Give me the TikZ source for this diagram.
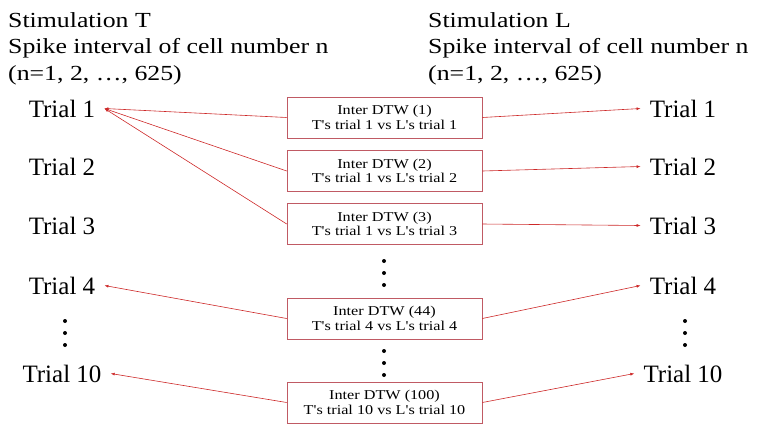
\documentclass[tikz,border=0pt]{standalone}
\usepackage{fontspec}
\usepackage{tikz}
\usetikzlibrary{arrows.meta}
\setmainfont{Liberation Serif}
\newfontfamily\widefont[FakeStretch=1.2]{Liberation Serif}
\definecolor{boxred}{RGB}{192,90,100}
\definecolor{linkred}{RGB}{205,40,40}

\tikzset{
  head/.style={anchor=base west, align=left, inner sep=0pt,
    font=\widefont\fontsize{21.5}{26.5}\selectfont},
  trial/.style={font=\rmfamily\fontsize{25}{28}\selectfont, text height=17pt, text depth=0pt,
    inner xsep=9pt, inner ysep=0pt, anchor=base},
  dtw/.style={draw=boxred, line width=0.6pt, minimum width=195pt, minimum height=41pt,
    align=center, inner sep=0pt, font=\widefont\fontsize{13.5}{14.5}\selectfont},
  link/.style={draw=linkred, line width=0.6pt, -{Latex[length=4pt,width=3pt]}},
  vdot/.style={circle, fill=black, inner sep=0pt, minimum size=4pt}
}

\begin{document}
\begin{tikzpicture}[x=1pt, y=-1pt]
      \useasboundingbox (0,0) rectangle (767,432);
      % headers (base = last line)
      \node[head] (hl) at (8, 80) {Stimulation T\\Spike interval of cell number n\\(n=1, 2, …, 625)};
      \node[head] (hr) at (428, 80) {Stimulation L\\Spike interval of cell number n\\(n=1, 2, …, 625)};
      % trials of T
      \node[trial] (t1) at (62, 117) {Trial 1};
      \node[trial] (t2) at (62, 175) {Trial 2};
      \node[trial] (t3) at (62, 234) {Trial 3};
      \node[trial] (t4) at (62, 294) {Trial 4};
      \node[trial] (t10) at (62, 382) {Trial 10};
      % trials of L
      \node[trial] (l1) at (683, 117) {Trial 1};
      \node[trial] (l2) at (683, 175) {Trial 2};
      \node[trial] (l3) at (683, 234) {Trial 3};
      \node[trial] (l4) at (683, 294) {Trial 4};
      \node[trial] (l10) at (683, 382) {Trial 10};
      % DTW boxes
      \node[dtw] (d1) at (384.5, 117.5) {Inter DTW (1)\\T's trial 1 vs L's trial 1};
      \node[dtw] (d2) at (384.5, 171) {Inter DTW (2)\\T's trial 1 vs L's trial 2};
      \node[dtw] (d3) at (384.5, 224) {Inter DTW (3)\\T's trial 1 vs L's trial 3};
      \node[dtw] (d44) at (384.5, 318.5) {Inter DTW (44)\\T's trial 4 vs L's trial 4};
      \node[dtw] (d100) at (384.5, 402.5) {Inter DTW (100)\\T's trial 10 vs L's trial 10};
      % dots
      \foreach \x/\y in {65/321, 685/321, 384/261, 384/351} {
        \node[vdot] at (\x, \y) {};
        \node[vdot] at (\x, \y+12) {};
        \node[vdot] at (\x, \y+24) {};
      }
      % connectors
      \draw[link] (d1.west) -- (t1.east);
      \draw[link] (d2.west) -- (t1.east);
      \draw[link] (d3.west) -- (t1.east);
      \draw[link] (d44.west) -- (t4.east);
      \draw[link] (d100.west) -- (t10.east);
      \draw[link] (d1.east) -- (l1.west);
      \draw[link] (d2.east) -- (l2.west);
      \draw[link] (d3.east) -- (l3.west);
      \draw[link] (d44.east) -- (l4.west);
      \draw[link] (d100.east) -- (l10.west);
    \end{tikzpicture}
\end{document}
